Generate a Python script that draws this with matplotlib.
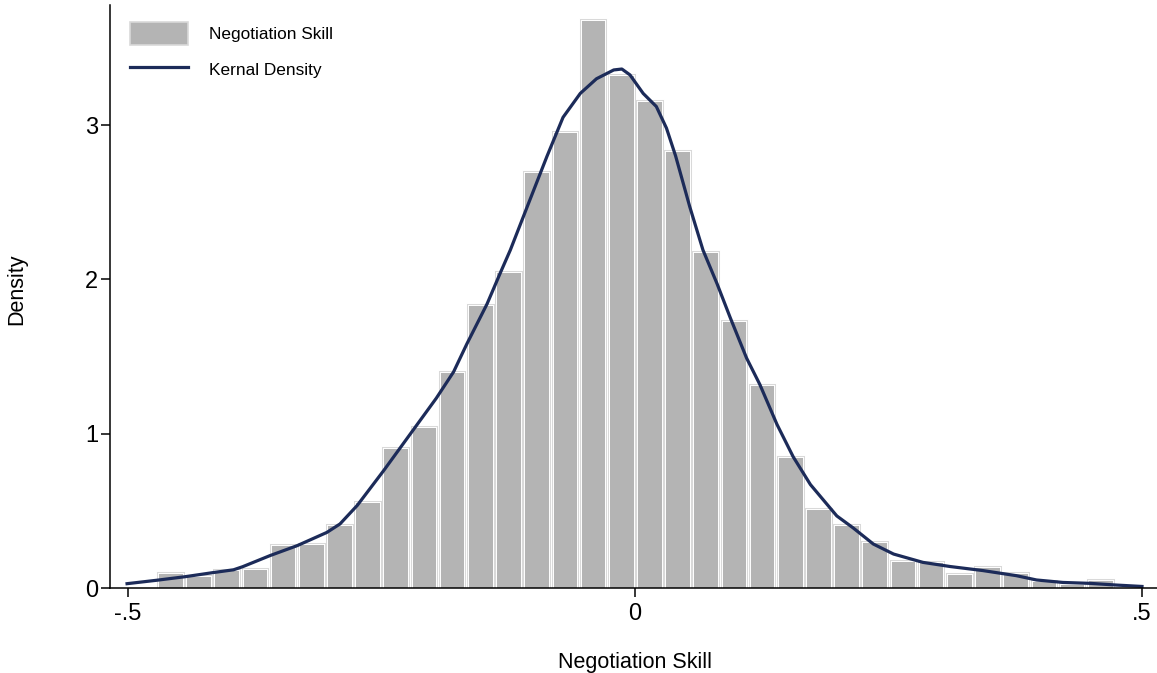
import matplotlib.pyplot as plt
import matplotlib.patheffects as pe

plt.rcParams['font.family'] = ['Liberation Sans', 'DejaVu Sans']

# Histogram: 34 equal bins starting at the sample minimum
hist_start = -0.4717
bin_width = 0.02779
hist_density = [0.09, 0.07, 0.107, 0.118, 0.27, 0.28, 0.40, 0.55, 0.90, 1.04,
                1.39, 1.83, 2.04, 2.69, 2.95, 3.677, 3.318, 3.152, 2.826, 2.17,
                1.724, 1.31, 0.845, 0.503, 0.40, 0.29, 0.166, 0.16, 0.086, 0.128,
                0.091, 0.041, 0.021, 0.043]

# Kernel density curve
kde_x = [-0.501, -0.472, -0.444, -0.416, -0.396, -0.387, -0.360, -0.333, -0.304,
         -0.291, -0.274, -0.248, -0.222, -0.196, -0.179, -0.166, -0.146, -0.133,
         -0.123, -0.104, -0.087, -0.071, -0.054, -0.038, -0.021, -0.013, -0.005,
         0.008, 0.021, 0.031, 0.040, 0.054, 0.067, 0.081, 0.094, 0.110, 0.123,
         0.140, 0.156, 0.173, 0.189, 0.199, 0.215, 0.235, 0.255, 0.284, 0.311,
         0.343, 0.376, 0.396, 0.422, 0.449, 0.475, 0.500]
kde_y = [0.028, 0.05, 0.073, 0.10, 0.118, 0.138, 0.21, 0.275, 0.36,
         0.415, 0.535, 0.76, 0.995, 1.23, 1.40, 1.58, 1.84, 2.04,
         2.19, 2.51, 2.795, 3.05, 3.205, 3.30, 3.357, 3.363, 3.325,
         3.205, 3.12, 2.98, 2.80, 2.47, 2.19, 1.97, 1.75, 1.49, 1.32,
         1.06, 0.85, 0.67, 0.545, 0.467, 0.39, 0.285, 0.22, 0.166, 0.139,
         0.113, 0.08, 0.052, 0.036, 0.03, 0.019, 0.01]

x_ticks = [-0.5, 0, 0.5]
x_tick_labels = ['-.5', '0', '.5']
y_ticks = [0, 1, 2, 3]

bar_fill = '#b4b4b4'
bar_edge = '#d9d9d9'
line_color = '#1c2b59'

fig = plt.figure(figsize=(11.57, 6.73), dpi=100)
ax = fig.add_axes([0.0951, 0.1263, 0.9049, 0.8663])

centers = [hist_start + (i + 0.5) * bin_width for i in range(len(hist_density))]
bar_effects = [pe.Stroke(linewidth=2.9, foreground=bar_edge),
               pe.Stroke(linewidth=1.4, foreground='white'),
               pe.Normal()]
bars = ax.bar(centers, hist_density, width=bin_width * 0.84, color=bar_fill,
              linewidth=0, label='Negotiation Skill')
for b in bars:
    b.set_path_effects(bar_effects)

ax.plot(kde_x, kde_y, color=line_color, linewidth=2.3, label='Kernal Density',
        solid_joinstyle='round')

ax.set_xlim(-0.5178, 0.5148)
ax.set_ylim(0, 3.778)
ax.set_xticks(x_ticks)
ax.set_xticklabels(x_tick_labels)
ax.set_yticks(y_ticks)

for side in ['top', 'right']:
    ax.spines[side].set_visible(False)
for side in ['left', 'bottom']:
    ax.spines[side].set_linewidth(1.1)
ax.tick_params(axis='both', length=6.5, width=1.1, labelsize=17)
ax.tick_params(axis='x', pad=4)
ax.tick_params(axis='y', pad=2)

ax.set_xlabel('Negotiation Skill', fontsize=15.5)
ax.xaxis.set_label_coords(0.501, -0.109)
ax.set_ylabel('Density', fontsize=15.5)
ax.yaxis.set_label_coords(-0.079, 0.512)

leg_patch = plt.Rectangle((0, 0), 1, 1, facecolor=bar_fill, edgecolor=bar_edge, linewidth=1.2)
handles = [leg_patch, ax.get_lines()[0]]
ax.legend(handles, ['Negotiation Skill', 'Kernal Density'], loc='upper left',
          bbox_to_anchor=(0.019, 0.971), frameon=False, fontsize=12.4,
          handlelength=3.4, handleheight=1.7, handletextpad=1.2,
          labelspacing=0.75, borderpad=0, borderaxespad=0)

fig.savefig('out.png', dpi=100)
